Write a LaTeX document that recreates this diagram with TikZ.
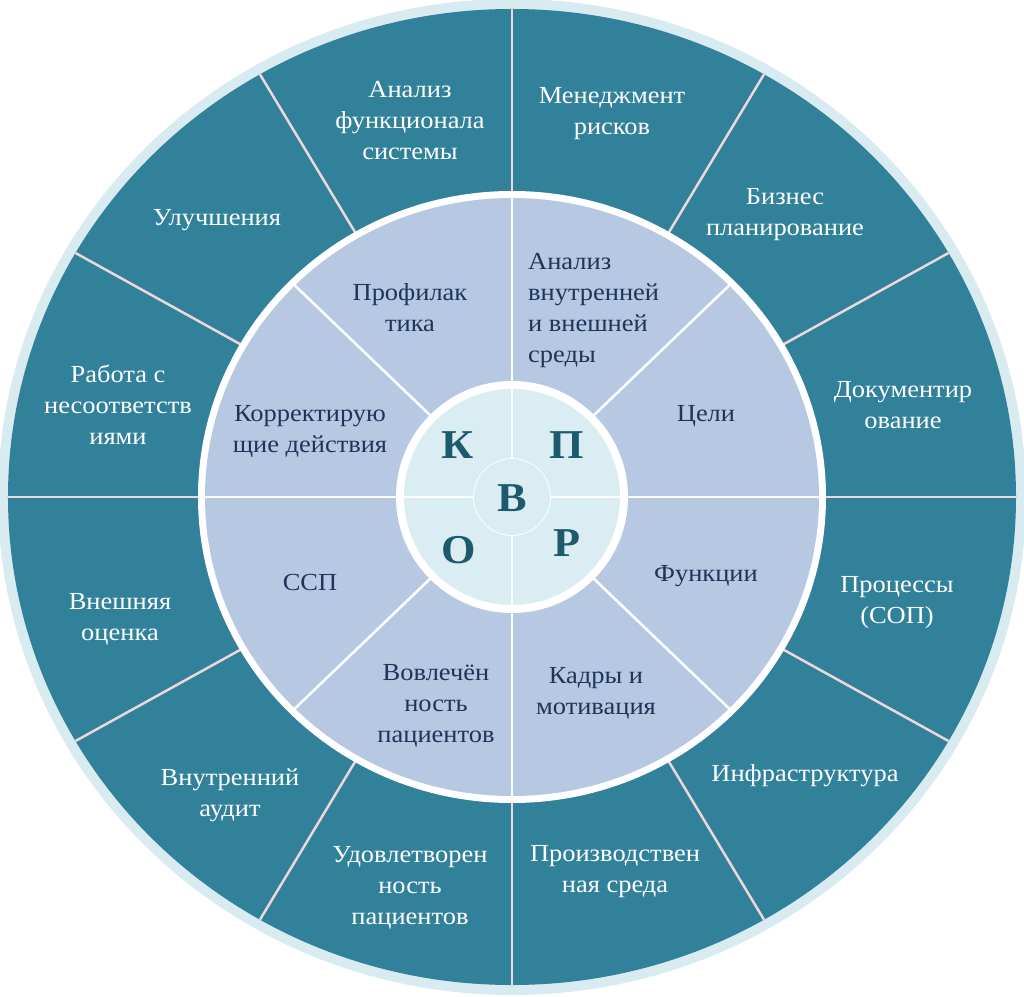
\documentclass[tikz,border=0pt]{standalone}
\usepackage{fontspec}
\setmainfont{Liberation Serif}[FakeStretch=1.08]
\definecolor{bandc}{HTML}{D8EBF0}
\definecolor{tealc}{HTML}{31819B}
\definecolor{midc}{HTML}{B7C9E2}
\definecolor{cenc}{HTML}{DAEDF2}
\definecolor{divc}{HTML}{EAD8DA}
\definecolor{midtext}{HTML}{1D355A}
\definecolor{lettc}{HTML}{1D5A6C}
\tikzset{
  outtext/.style={text=white, align=center, font=\fontsize{24.5}{31}\selectfont, inner sep=0pt},
  midtext/.style={text=midtext, align=center, font=\fontsize{24.5}{31}\selectfont, inner sep=0pt},
  letter/.style={text=lettc, font=\fontsize{41}{42}\selectfont\bfseries, inner sep=0pt},
  outdiv/.style={draw=divc, line width=2.5pt},
  middiv/.style={draw=white, line width=2.5pt}
}
\begin{document}
\begin{tikzpicture}[x=1pt,y=1pt]
\useasboundingbox (-512,-499) rectangle (512,497);
% outer ring
\fill[bandc] (0,0) ellipse [x radius=514, y radius=498];
\fill[tealc] (0,0) ellipse [x radius=504, y radius=488];
\foreach \a in {0,30,...,330}
  \draw[outdiv] ({310*cos(\a)},{302*sin(\a)}) -- ({504*cos(\a)},{488*sin(\a)});
% middle ring
\fill[white] (0,0) ellipse [x radius=314, y radius=306];
\fill[midc] (0,0) ellipse [x radius=307, y radius=299];
\foreach \a in {0,45,...,315}
  \draw[middiv] ({112*cos(\a)},{112*sin(\a)}) -- ({309*cos(\a)},{301*sin(\a)});
% center
\fill[white] (0,0) circle (116);
\fill[cenc] (0,0) circle (108);
\draw[middiv, line width=2pt] (0,108) -- (0,-108);
\draw[middiv, line width=2pt] (-108,0) -- (108,0);
\fill[cenc] (0,0) circle (38.5);
\draw[white, line width=0.8pt] (0,0) circle (38.5);
% outer labels
\node[outtext] (o1) at (-102,376) {Анализ\\функционала\\системы};
\node[outtext] (o2) at (100,383) {Менеджмент\\рисков};
\node[outtext] (o3) at (273,282) {Бизнес\\планирование};
\node[outtext] (o4) at (391,92) {Документир\\ование};
\node[outtext] (o5) at (385,-106) {Процессы\\(СОП)};
\node[outtext] (o6) at (293,-279) {Инфраструктура};
\node[outtext] (o7) at (103,-375) {Производствен\\ная среда};
\node[outtext] (o8) at (-102,-391) {Удовлетворен\\ность\\пациентов};
\node[outtext] (o9) at (-282,-298) {Внутренний\\аудит};
\node[outtext] (o10) at (-392,-122) {Внешняя\\оценка};
\node[outtext] (o11) at (-394,92) {Работа с\\несоответств\\иями};
\node[outtext] (o12) at (-295,277) {Улучшения};
% middle labels
\node[midtext] (m1) at (-102,189) {Профилак\\тика};
\node[midtext, align=left, anchor=west] (m2) at (16,186) {Анализ\\внутренней\\и внешней\\среды};
\node[midtext] (m3) at (194,81) {Цели};
\node[midtext] (m4) at (194,-79) {Функции};
\node[midtext] (m5) at (84,-196) {Кадры и\\мотивация};
\node[midtext] (m6) at (-76,-209) {Вовлечён\\ность\\пациентов};
\node[midtext] (m7) at (-202,-86) {ССП};
\node[midtext] (m8) at (-202,65) {Корректирую\\щие действия};
% center letters
\node[letter] (lk) at (-54,52) {К};
\node[letter] (lp) at (55,52) {П};
\node[letter] (lv) at (0,-1) {В};
\node[letter] (lo) at (-53,-53) {О};
\node[letter] (lr) at (55,-46) {Р};
\end{tikzpicture}
\end{document}
